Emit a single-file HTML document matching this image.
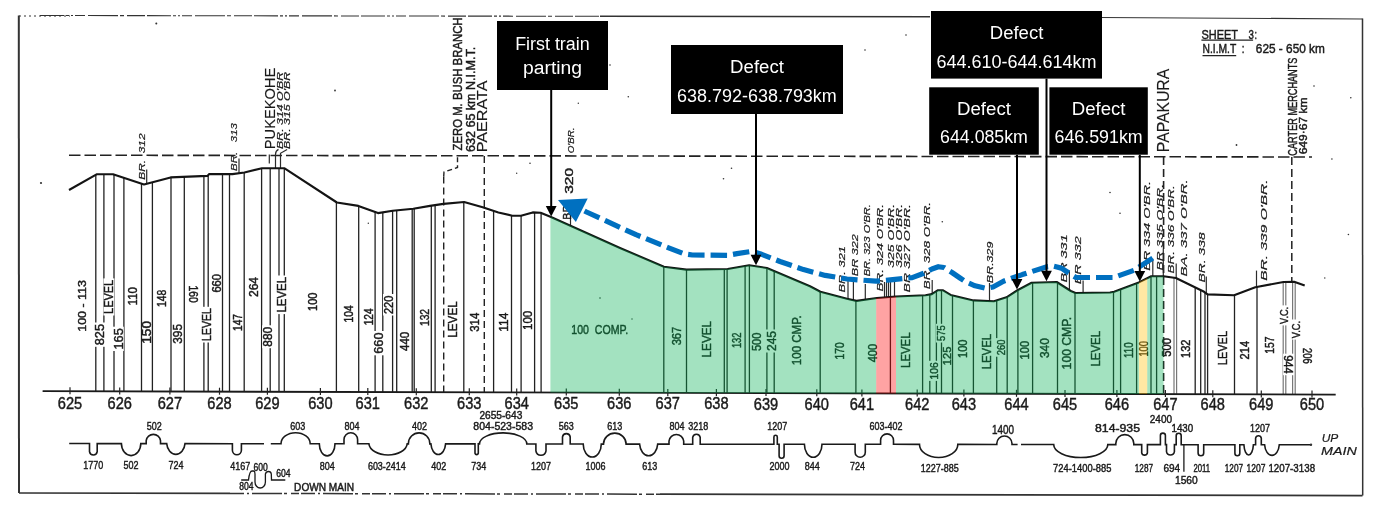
<!DOCTYPE html><html><head><meta charset="utf-8"><title>Gradient diagram</title>
<style>html,body{margin:0;padding:0;background:#fff;overflow:hidden}svg{display:block}text{font-family:"Liberation Sans", "DejaVu Sans", sans-serif}#art text{stroke:#1a1a1a;stroke-width:0.45px}#art text[font-style]{stroke-width:0.2px}</style></head><body>
<svg width="1379" height="510" viewBox="0 0 1379 510">
<rect width="1379" height="510" fill="#fff"/>
<g id="art">
<g fill="none" stroke="#333">
<path d="M19,16 L70,16" stroke-width="1" stroke-dasharray="2,3"/>
<path d="M40,15.5 L600,16.3" stroke-width="1.1" stroke-dasharray="24,2,3,2,2,2,10,3,30,2,4,3,18,2"/>
<path d="M600,16.3 L930,16.8" stroke-width="1.5"/>
<path d="M1100,17.5 L1362.5,19" stroke-width="1.2"/>
<path d="M18.8,15.5 L19,493" stroke-width="2"/>
<path d="M19,493 L230,493.4" stroke-width="1.7"/>
<path d="M230,493.4 L660,494.2" stroke-width="1.5" stroke-dasharray="14,3,2,3,30,2,3,4,8,2"/>
<path d="M660,494.2 L1362.5,495.6" stroke-width="1.8"/>
<path d="M1362.5,18.5 L1362.7,495.6" stroke-width="1.5"/>
</g>
<path d="M69,155.2 L1312,157" stroke="#222" stroke-width="1.6" stroke-dasharray="11.5,4" fill="none"/>
<line x1="95.8" y1="174.9" x2="95.8" y2="391.4" stroke="#222" stroke-width="1.3"/>
<line x1="103.9" y1="174.2" x2="103.9" y2="391.4" stroke="#222" stroke-width="1.3"/>
<line x1="114" y1="174.5" x2="114" y2="391.4" stroke="#222" stroke-width="1.3"/>
<line x1="123.9" y1="177.8" x2="123.9" y2="391.4" stroke="#222" stroke-width="1.3"/>
<line x1="141.5" y1="183.6" x2="141.5" y2="391.5" stroke="#222" stroke-width="1.3"/>
<line x1="152.4" y1="182.2" x2="152.4" y2="391.5" stroke="#222" stroke-width="1.3"/>
<line x1="171" y1="177.4" x2="171" y2="391.6" stroke="#222" stroke-width="1.3"/>
<line x1="184.3" y1="176.8" x2="184.3" y2="391.6" stroke="#222" stroke-width="1.3"/>
<line x1="203.9" y1="176" x2="203.9" y2="391.6" stroke="#222" stroke-width="1.3"/>
<line x1="208.2" y1="175.1" x2="208.2" y2="391.7" stroke="#222" stroke-width="1.3"/>
<line x1="222.5" y1="174.1" x2="222.5" y2="391.7" stroke="#222" stroke-width="1.3"/>
<line x1="229.5" y1="174.1" x2="229.5" y2="391.7" stroke="#222" stroke-width="1.3"/>
<line x1="244.2" y1="172.5" x2="244.2" y2="391.8" stroke="#222" stroke-width="1.3"/>
<line x1="261.6" y1="168.3" x2="261.6" y2="391.8" stroke="#222" stroke-width="1.3"/>
<line x1="270.2" y1="168.2" x2="270.2" y2="391.8" stroke="#222" stroke-width="1.3"/>
<line x1="279" y1="168.3" x2="279" y2="391.8" stroke="#222" stroke-width="1.3"/>
<line x1="284.3" y1="168.3" x2="284.3" y2="391.9" stroke="#222" stroke-width="1.3"/>
<line x1="336.4" y1="202.2" x2="336.4" y2="392" stroke="#222" stroke-width="1.3"/>
<line x1="358.7" y1="206" x2="358.7" y2="392.1" stroke="#222" stroke-width="1.3"/>
<line x1="375.1" y1="212" x2="375.1" y2="392.1" stroke="#222" stroke-width="1.3"/>
<line x1="382.8" y1="212.3" x2="382.8" y2="392.1" stroke="#222" stroke-width="1.3"/>
<line x1="392.6" y1="210.8" x2="392.6" y2="392.1" stroke="#222" stroke-width="1.3"/>
<line x1="396.7" y1="210.4" x2="396.7" y2="392.1" stroke="#222" stroke-width="1.3"/>
<line x1="412.2" y1="208.9" x2="412.2" y2="392.2" stroke="#222" stroke-width="1.3"/>
<line x1="414.2" y1="208.6" x2="414.2" y2="392.2" stroke="#222" stroke-width="1.3"/>
<line x1="431.3" y1="205.7" x2="431.3" y2="392.2" stroke="#222" stroke-width="1.3"/>
<line x1="435.1" y1="205.1" x2="435.1" y2="392.2" stroke="#222" stroke-width="1.3"/>
<line x1="463.8" y1="202" x2="463.8" y2="392.3" stroke="#222" stroke-width="1.3"/>
<line x1="493.6" y1="210.8" x2="493.6" y2="392.4" stroke="#222" stroke-width="1.3"/>
<line x1="511.5" y1="215.5" x2="511.5" y2="392.4" stroke="#222" stroke-width="1.3"/>
<line x1="521.1" y1="215.7" x2="521.1" y2="392.5" stroke="#222" stroke-width="1.3"/>
<line x1="534.6" y1="212.5" x2="534.6" y2="392.5" stroke="#222" stroke-width="1.3"/>
<line x1="541.1" y1="212.9" x2="541.1" y2="392.5" stroke="#222" stroke-width="1.3"/>
<line x1="663.8" y1="266.7" x2="663.8" y2="392.8" stroke="#222" stroke-width="1.3"/>
<line x1="686.5" y1="269.6" x2="686.5" y2="392.9" stroke="#222" stroke-width="1.3"/>
<line x1="724.3" y1="269" x2="724.3" y2="393" stroke="#222" stroke-width="1.3"/>
<line x1="727.1" y1="269" x2="727.1" y2="393" stroke="#222" stroke-width="1.3"/>
<line x1="745.1" y1="266" x2="745.1" y2="393.1" stroke="#222" stroke-width="1.3"/>
<line x1="749.4" y1="265.3" x2="749.4" y2="393.1" stroke="#222" stroke-width="1.3"/>
<line x1="766.9" y1="268" x2="766.9" y2="393.1" stroke="#222" stroke-width="1.3"/>
<line x1="774.2" y1="271.1" x2="774.2" y2="393.1" stroke="#222" stroke-width="1.3"/>
<line x1="820.2" y1="291.7" x2="820.2" y2="393.3" stroke="#222" stroke-width="1.3"/>
<line x1="855.9" y1="300.8" x2="855.9" y2="393.3" stroke="#222" stroke-width="1.3"/>
<line x1="890.4" y1="296.9" x2="890.4" y2="393.4" stroke="#222" stroke-width="1.3"/>
<line x1="922.6" y1="295.3" x2="922.6" y2="393.5" stroke="#222" stroke-width="1.3"/>
<line x1="929.8" y1="294.4" x2="929.8" y2="393.5" stroke="#222" stroke-width="1.3"/>
<line x1="936.4" y1="291.2" x2="936.4" y2="393.6" stroke="#222" stroke-width="1.3"/>
<line x1="941.5" y1="290.2" x2="941.5" y2="393.6" stroke="#222" stroke-width="1.3"/>
<line x1="952.5" y1="295.4" x2="952.5" y2="393.6" stroke="#222" stroke-width="1.3"/>
<line x1="973.4" y1="300.4" x2="973.4" y2="393.7" stroke="#222" stroke-width="1.3"/>
<line x1="996.7" y1="300.3" x2="996.7" y2="393.7" stroke="#222" stroke-width="1.3"/>
<line x1="1007.2" y1="296.8" x2="1007.2" y2="393.7" stroke="#222" stroke-width="1.3"/>
<line x1="1017.9" y1="290" x2="1017.9" y2="393.8" stroke="#222" stroke-width="1.3"/>
<line x1="1032.6" y1="282.7" x2="1032.6" y2="393.8" stroke="#222" stroke-width="1.3"/>
<line x1="1057.5" y1="282.5" x2="1057.5" y2="393.9" stroke="#222" stroke-width="1.3"/>
<line x1="1075" y1="292.8" x2="1075" y2="393.9" stroke="#222" stroke-width="1.3"/>
<line x1="1113.5" y1="291.9" x2="1113.5" y2="394" stroke="#222" stroke-width="1.3"/>
<line x1="1120.6" y1="289.3" x2="1120.6" y2="394" stroke="#222" stroke-width="1.3"/>
<line x1="1136.6" y1="283.2" x2="1136.6" y2="394.1" stroke="#222" stroke-width="1.3"/>
<line x1="1151" y1="276.3" x2="1151" y2="394.1" stroke="#222" stroke-width="1.3"/>
<line x1="1156.6" y1="276.2" x2="1156.6" y2="394.1" stroke="#222" stroke-width="1.3"/>
<line x1="1195.2" y1="287.4" x2="1195.2" y2="394.2" stroke="#222" stroke-width="1.3"/>
<line x1="1200.7" y1="290.1" x2="1200.7" y2="394.2" stroke="#222" stroke-width="1.3"/>
<line x1="1205" y1="292.5" x2="1205" y2="394.3" stroke="#222" stroke-width="1.3"/>
<line x1="1207.6" y1="294.4" x2="1207.6" y2="394.3" stroke="#222" stroke-width="1.3"/>
<line x1="1234.5" y1="295.1" x2="1234.5" y2="394.3" stroke="#222" stroke-width="1.3"/>
<line x1="1257" y1="287" x2="1257" y2="394.4" stroke="#222" stroke-width="1.3"/>
<line x1="1174" y1="277.7" x2="1174" y2="394.2" stroke="#777" stroke-width="1.2"/>
<line x1="1176.6" y1="278.3" x2="1176.6" y2="394.2" stroke="#777" stroke-width="1.2"/>
<line x1="1283.2" y1="282.1" x2="1283.2" y2="394.5" stroke="#777" stroke-width="1.2"/>
<line x1="1285.8" y1="281.9" x2="1285.8" y2="394.5" stroke="#777" stroke-width="1.2"/>
<line x1="1292.6" y1="281.7" x2="1292.6" y2="394.5" stroke="#777" stroke-width="1.2"/>
<line x1="1295.2" y1="282.1" x2="1295.2" y2="394.5" stroke="#777" stroke-width="1.2"/>
<line x1="443.7" y1="176.5" x2="443.7" y2="392.3" stroke="#222" stroke-width="1.4" stroke-dasharray="7,4"/>
<path d="M443.7,176.5 L444,172 L457.5,167.5 L457.5,156" fill="none" stroke="#222" stroke-width="1.4" stroke-dasharray="5,3"/>
<line x1="484.3" y1="156" x2="484.3" y2="392.4" stroke="#222" stroke-width="1.4" stroke-dasharray="7,4"/>
<line x1="1163.6" y1="157" x2="1163.6" y2="394.1" stroke="#222" stroke-width="1.6" stroke-dasharray="8,4"/>
<line x1="1291.8" y1="157" x2="1291.8" y2="281.5" stroke="#222" stroke-width="1.5" stroke-dasharray="8,4"/>
<line x1="146.7" y1="169.4" x2="146.7" y2="183.7" stroke="#2b2b2b" stroke-width="1.2"/>
<line x1="239" y1="158.4" x2="239" y2="173.2" stroke="#2b2b2b" stroke-width="1.2"/>
<line x1="848" y1="280" x2="848" y2="299" stroke="#2b2b2b" stroke-width="1.2"/>
<line x1="853.4" y1="282" x2="853.4" y2="300.2" stroke="#2b2b2b" stroke-width="1.2"/>
<line x1="865.3" y1="284" x2="865.3" y2="299.6" stroke="#2b2b2b" stroke-width="1.2"/>
<line x1="884.5" y1="282" x2="884.5" y2="297.4" stroke="#2b2b2b" stroke-width="1.2"/>
<line x1="886.5" y1="282" x2="886.5" y2="297.2" stroke="#2b2b2b" stroke-width="1.2"/>
<line x1="888.5" y1="282" x2="888.5" y2="297.1" stroke="#2b2b2b" stroke-width="1.2"/>
<line x1="890.5" y1="282" x2="890.5" y2="296.9" stroke="#2b2b2b" stroke-width="1.2"/>
<line x1="894.5" y1="282" x2="894.5" y2="296.6" stroke="#2b2b2b" stroke-width="1.2"/>
<line x1="932.2" y1="280" x2="932.2" y2="293.8" stroke="#2b2b2b" stroke-width="1.2"/>
<line x1="989.5" y1="283" x2="989.5" y2="301" stroke="#2b2b2b" stroke-width="1.2"/>
<line x1="1069.4" y1="270.6" x2="1069.4" y2="290.1" stroke="#2b2b2b" stroke-width="1.2"/>
<line x1="1083.1" y1="280.4" x2="1083.1" y2="292.9" stroke="#2b2b2b" stroke-width="1.2"/>
<line x1="1152.8" y1="258.8" x2="1152.8" y2="276.2" stroke="#2b2b2b" stroke-width="1.2"/>
<line x1="1163.3" y1="249" x2="1163.3" y2="276.2" stroke="#2b2b2b" stroke-width="1.2"/>
<line x1="1176.2" y1="263.6" x2="1176.2" y2="278.1" stroke="#2b2b2b" stroke-width="1.2"/>
<line x1="1206.3" y1="276.6" x2="1206.3" y2="293.4" stroke="#2b2b2b" stroke-width="1.2"/>
<line x1="1256.5" y1="270.6" x2="1256.5" y2="287.1" stroke="#2b2b2b" stroke-width="1.2"/>
<line x1="570.5" y1="205" x2="570.5" y2="225.7" stroke="#2b2b2b" stroke-width="1.2"/>
<path d="M278.5,149.4 Q275.5,151 275.5,154.5 L275.5,168.2 M287.1,149.4 L280.5,153.3 L280.5,168.2 M269.3,154.5 L269.3,163.5" fill="none" stroke="#2b2b2b" stroke-width="1.2"/>
<polyline fill="none" stroke="#141414" stroke-width="2.1" stroke-linejoin="round" points="69,190 97,174.2 113,174.2 144,184.4 170.6,177.4 207.4,175.9 209.2,174.1 232.4,174.1 244.4,172.5 262,168.2 284.6,168.3 336.9,202.5 358.4,205.9 378,213.1 392.7,210.8 413.3,208.8 430,205.9 443.5,203.9 464.1,202 482.7,207.3 498.4,212.4 512.2,215.7 521,215.7 532.7,212.4 540.6,212.7 550.4,216.7 620,248 663.9,266.7 686.5,269.6 727.6,269 749.2,265.3 766.9,268 810,286.3 820.4,291.8 847,298.8 856.5,300.9 876.9,298 895.7,296.5 925.5,295.2 931.8,294.1 938,290.2 942.7,290.2 950.6,294.9 973.5,300.4 993.9,301.2 1006.5,297.3 1017.5,290.2 1031.6,282.7 1056.7,282 1070.8,291 1075.5,293 1110,292.5 1114.1,291.8 1138.8,282.4 1151.2,276.2 1163.5,276.2 1175.9,278 1204.1,291.8 1207.6,294.4 1234.1,295.3 1255.3,287.3 1283.5,282 1294.1,281.7 1304.7,285.6"/>
<line x1="42.6" y1="391.2" x2="1335.7" y2="394.6" stroke="#1a1a1a" stroke-width="1.8"/>
<line x1="70" y1="387.3" x2="70" y2="394.3" stroke="#222" stroke-width="1.2"/>
<text x="57.8" y="408.5" font-size="17.2" fill="#1a1a1a" textLength="24.4" lengthAdjust="spacingAndGlyphs">625</text>
<line x1="119.7" y1="387.4" x2="119.7" y2="394.4" stroke="#222" stroke-width="1.2"/>
<text x="107.5" y="408.6" font-size="17.2" fill="#1a1a1a" textLength="24.4" lengthAdjust="spacingAndGlyphs">626</text>
<line x1="169.9" y1="387.6" x2="169.9" y2="394.6" stroke="#222" stroke-width="1.2"/>
<text x="157.7" y="408.6" font-size="17.2" fill="#1a1a1a" textLength="24.4" lengthAdjust="spacingAndGlyphs">627</text>
<line x1="219.5" y1="387.7" x2="219.5" y2="394.7" stroke="#222" stroke-width="1.2"/>
<text x="207.3" y="408.7" font-size="17.2" fill="#1a1a1a" textLength="24.4" lengthAdjust="spacingAndGlyphs">628</text>
<line x1="267.4" y1="387.8" x2="267.4" y2="394.8" stroke="#222" stroke-width="1.2"/>
<text x="255.2" y="408.8" font-size="17.2" fill="#1a1a1a" textLength="24.4" lengthAdjust="spacingAndGlyphs">629</text>
<line x1="320.4" y1="388" x2="320.4" y2="395" stroke="#222" stroke-width="1.2"/>
<text x="308.2" y="408.8" font-size="17.2" fill="#1a1a1a" textLength="24.4" lengthAdjust="spacingAndGlyphs">630</text>
<line x1="367.8" y1="388.1" x2="367.8" y2="395.1" stroke="#222" stroke-width="1.2"/>
<text x="355.6" y="408.9" font-size="17.2" fill="#1a1a1a" textLength="24.4" lengthAdjust="spacingAndGlyphs">631</text>
<line x1="416.3" y1="388.2" x2="416.3" y2="395.2" stroke="#222" stroke-width="1.2"/>
<text x="404.1" y="409" font-size="17.2" fill="#1a1a1a" textLength="24.4" lengthAdjust="spacingAndGlyphs">632</text>
<line x1="469.3" y1="388.3" x2="469.3" y2="395.3" stroke="#222" stroke-width="1.2"/>
<text x="457.1" y="409" font-size="17.2" fill="#1a1a1a" textLength="24.4" lengthAdjust="spacingAndGlyphs">633</text>
<line x1="516.7" y1="388.5" x2="516.7" y2="395.5" stroke="#222" stroke-width="1.2"/>
<text x="504.5" y="409.1" font-size="17.2" fill="#1a1a1a" textLength="24.4" lengthAdjust="spacingAndGlyphs">634</text>
<line x1="566.3" y1="388.6" x2="566.3" y2="395.6" stroke="#222" stroke-width="1.2"/>
<text x="554.1" y="409.2" font-size="17.2" fill="#1a1a1a" textLength="24.4" lengthAdjust="spacingAndGlyphs">635</text>
<line x1="619.3" y1="388.7" x2="619.3" y2="395.7" stroke="#222" stroke-width="1.2"/>
<text x="607.1" y="409.3" font-size="17.2" fill="#1a1a1a" textLength="24.4" lengthAdjust="spacingAndGlyphs">636</text>
<line x1="667.8" y1="388.9" x2="667.8" y2="395.9" stroke="#222" stroke-width="1.2"/>
<text x="655.6" y="409.3" font-size="17.2" fill="#1a1a1a" textLength="24.4" lengthAdjust="spacingAndGlyphs">637</text>
<line x1="716.4" y1="389" x2="716.4" y2="396" stroke="#222" stroke-width="1.2"/>
<text x="704.2" y="409.4" font-size="17.2" fill="#1a1a1a" textLength="24.4" lengthAdjust="spacingAndGlyphs">638</text>
<line x1="766" y1="389.1" x2="766" y2="396.1" stroke="#222" stroke-width="1.2"/>
<text x="753.8" y="409.5" font-size="17.2" fill="#1a1a1a" textLength="24.4" lengthAdjust="spacingAndGlyphs">639</text>
<line x1="816.8" y1="389.2" x2="816.8" y2="396.2" stroke="#222" stroke-width="1.2"/>
<text x="804.6" y="409.5" font-size="17.2" fill="#1a1a1a" textLength="24.4" lengthAdjust="spacingAndGlyphs">640</text>
<line x1="861.9" y1="389.4" x2="861.9" y2="396.4" stroke="#222" stroke-width="1.2"/>
<text x="849.7" y="409.6" font-size="17.2" fill="#1a1a1a" textLength="24.4" lengthAdjust="spacingAndGlyphs">641</text>
<line x1="917.2" y1="389.5" x2="917.2" y2="396.5" stroke="#222" stroke-width="1.2"/>
<text x="905" y="409.7" font-size="17.2" fill="#1a1a1a" textLength="24.4" lengthAdjust="spacingAndGlyphs">642</text>
<line x1="963.9" y1="389.6" x2="963.9" y2="396.6" stroke="#222" stroke-width="1.2"/>
<text x="951.7" y="409.7" font-size="17.2" fill="#1a1a1a" textLength="24.4" lengthAdjust="spacingAndGlyphs">643</text>
<line x1="1016.5" y1="389.8" x2="1016.5" y2="396.8" stroke="#222" stroke-width="1.2"/>
<text x="1004.3" y="409.8" font-size="17.2" fill="#1a1a1a" textLength="24.4" lengthAdjust="spacingAndGlyphs">644</text>
<line x1="1065" y1="389.9" x2="1065" y2="396.9" stroke="#222" stroke-width="1.2"/>
<text x="1052.8" y="409.9" font-size="17.2" fill="#1a1a1a" textLength="24.4" lengthAdjust="spacingAndGlyphs">645</text>
<line x1="1116.9" y1="390" x2="1116.9" y2="397" stroke="#222" stroke-width="1.2"/>
<text x="1104.7" y="409.9" font-size="17.2" fill="#1a1a1a" textLength="24.4" lengthAdjust="spacingAndGlyphs">646</text>
<line x1="1165.4" y1="390.1" x2="1165.4" y2="397.1" stroke="#222" stroke-width="1.2"/>
<text x="1153.2" y="410" font-size="17.2" fill="#1a1a1a" textLength="24.4" lengthAdjust="spacingAndGlyphs">647</text>
<line x1="1212.8" y1="390.3" x2="1212.8" y2="397.3" stroke="#222" stroke-width="1.2"/>
<text x="1200.6" y="410.1" font-size="17.2" fill="#1a1a1a" textLength="24.4" lengthAdjust="spacingAndGlyphs">648</text>
<line x1="1261.3" y1="390.4" x2="1261.3" y2="397.4" stroke="#222" stroke-width="1.2"/>
<text x="1249.1" y="410.1" font-size="17.2" fill="#1a1a1a" textLength="24.4" lengthAdjust="spacingAndGlyphs">649</text>
<line x1="1312" y1="390.5" x2="1312" y2="397.5" stroke="#222" stroke-width="1.2"/>
<text x="1299.8" y="410.2" font-size="17.2" fill="#1a1a1a" textLength="24.4" lengthAdjust="spacingAndGlyphs">650</text>
<text transform="translate(86.3,305.9) rotate(-90)" font-size="11.5" text-anchor="middle" fill="#1a1a1a" textLength="51.7" lengthAdjust="spacingAndGlyphs">100 - 113</text>
<rect x="94.3" y="322.5" width="11" height="24.3" fill="#fff"/>
<text transform="translate(104.1,334.6) rotate(-90)" font-size="12" text-anchor="middle" fill="#1a1a1a" textLength="21.3" lengthAdjust="spacingAndGlyphs">825</text>
<rect x="103.4" y="278.4" width="11" height="37.1" fill="#fff"/>
<text transform="translate(113.2,296.9) rotate(-90)" font-size="12" text-anchor="middle" fill="#1a1a1a" textLength="34.1" lengthAdjust="spacingAndGlyphs">LEVEL</text>
<rect x="112.8" y="326.7" width="11" height="24.3" fill="#fff"/>
<text transform="translate(122.6,338.9) rotate(-90)" font-size="12" text-anchor="middle" fill="#1a1a1a" textLength="21.3" lengthAdjust="spacingAndGlyphs">165</text>
<text transform="translate(136.8,296.2) rotate(-90)" font-size="12" text-anchor="middle" fill="#1a1a1a" textLength="18.4" lengthAdjust="spacingAndGlyphs">110</text>
<text transform="translate(151,332.4) rotate(-90)" font-size="12" text-anchor="middle" fill="#1a1a1a" textLength="22.8" lengthAdjust="spacingAndGlyphs">150</text>
<text transform="translate(166.1,298.4) rotate(-90)" font-size="12" text-anchor="middle" fill="#1a1a1a" textLength="17.1" lengthAdjust="spacingAndGlyphs">148</text>
<text transform="translate(182.3,333.9) rotate(-90)" font-size="12" text-anchor="middle" fill="#1a1a1a" textLength="19.8" lengthAdjust="spacingAndGlyphs">395</text>
<rect x="200.9" y="306.8" width="11" height="35.7" fill="#fff"/>
<text transform="translate(210.7,324.6) rotate(-90)" font-size="12" text-anchor="middle" fill="#1a1a1a" textLength="32.7" lengthAdjust="spacingAndGlyphs">LEVEL</text>
<text transform="translate(220.7,283.3) rotate(-90)" font-size="12" text-anchor="middle" fill="#1a1a1a" textLength="18.6" lengthAdjust="spacingAndGlyphs">660</text>
<text transform="translate(242.1,322.5) rotate(-90)" font-size="12" text-anchor="middle" fill="#1a1a1a" textLength="17" lengthAdjust="spacingAndGlyphs">147</text>
<text transform="translate(257.7,287) rotate(-90)" font-size="12" text-anchor="middle" fill="#1a1a1a" textLength="20" lengthAdjust="spacingAndGlyphs">264</text>
<rect x="262.1" y="325.3" width="11" height="22.9" fill="#fff"/>
<text transform="translate(271.9,336.8) rotate(-90)" font-size="12" text-anchor="middle" fill="#1a1a1a" textLength="19.9" lengthAdjust="spacingAndGlyphs">880</text>
<rect x="276.4" y="275.5" width="11" height="38.6" fill="#fff"/>
<text transform="translate(286.2,294.8) rotate(-90)" font-size="12" text-anchor="middle" fill="#1a1a1a" textLength="35.6" lengthAdjust="spacingAndGlyphs">LEVEL</text>
<text transform="translate(317.4,301.8) rotate(-90)" font-size="12" text-anchor="middle" fill="#1a1a1a" textLength="18.4" lengthAdjust="spacingAndGlyphs">100</text>
<text transform="translate(353,313.9) rotate(-90)" font-size="12" text-anchor="middle" fill="#1a1a1a" textLength="17.1" lengthAdjust="spacingAndGlyphs">104</text>
<text transform="translate(372.9,316.8) rotate(-90)" font-size="12" text-anchor="middle" fill="#1a1a1a" textLength="17" lengthAdjust="spacingAndGlyphs">124</text>
<rect x="373" y="331" width="11" height="24.3" fill="#fff"/>
<text transform="translate(382.8,343.1) rotate(-90)" font-size="12" text-anchor="middle" fill="#1a1a1a" textLength="21.3" lengthAdjust="spacingAndGlyphs">660</text>
<rect x="383" y="294" width="11" height="21.5" fill="#fff"/>
<text transform="translate(392.8,304.8) rotate(-90)" font-size="12" text-anchor="middle" fill="#1a1a1a" textLength="18.5" lengthAdjust="spacingAndGlyphs">220</text>
<text transform="translate(408.9,341.4) rotate(-90)" font-size="12" text-anchor="middle" fill="#1a1a1a" textLength="19.1" lengthAdjust="spacingAndGlyphs">440</text>
<text transform="translate(429.1,317.5) rotate(-90)" font-size="12" text-anchor="middle" fill="#1a1a1a" textLength="17.2" lengthAdjust="spacingAndGlyphs">132</text>
<text transform="translate(456.6,319.5) rotate(-90)" font-size="12" text-anchor="middle" fill="#1a1a1a" textLength="36.3" lengthAdjust="spacingAndGlyphs">LEVEL</text>
<text transform="translate(478.8,322.2) rotate(-90)" font-size="12" text-anchor="middle" fill="#1a1a1a" textLength="19.1" lengthAdjust="spacingAndGlyphs">314</text>
<text transform="translate(508.2,322.2) rotate(-90)" font-size="12" text-anchor="middle" fill="#1a1a1a" textLength="19.1" lengthAdjust="spacingAndGlyphs">114</text>
<text transform="translate(532.3,320.4) rotate(-90)" font-size="12" text-anchor="middle" fill="#1a1a1a" textLength="19.1" lengthAdjust="spacingAndGlyphs">100</text>
<text transform="translate(680.8,336.1) rotate(-90)" font-size="12" text-anchor="middle" fill="#1a1a1a" textLength="18.5" lengthAdjust="spacingAndGlyphs">367</text>
<text transform="translate(710.9,339.2) rotate(-90)" font-size="12.5" text-anchor="middle" fill="#1a1a1a" textLength="36.5" lengthAdjust="spacingAndGlyphs">LEVEL</text>
<text transform="translate(740.8,340.3) rotate(-90)" font-size="12" text-anchor="middle" fill="#1a1a1a" textLength="15.6" lengthAdjust="spacingAndGlyphs">132</text>
<text transform="translate(761.3,341.8) rotate(-90)" font-size="12" text-anchor="middle" fill="#1a1a1a" textLength="18.5" lengthAdjust="spacingAndGlyphs">500</text>
<rect x="765.7" y="329.5" width="11" height="23" fill="#fff"/>
<text transform="translate(775.5,341) rotate(-90)" font-size="12" text-anchor="middle" fill="#1a1a1a" textLength="20" lengthAdjust="spacingAndGlyphs">245</text>
<text transform="translate(801.3,340.3) rotate(-90)" font-size="12.5" text-anchor="middle" fill="#1a1a1a" textLength="49.8" lengthAdjust="spacingAndGlyphs">100 CMP.</text>
<text transform="translate(843.7,350.9) rotate(-90)" font-size="12" text-anchor="middle" fill="#1a1a1a" textLength="17.1" lengthAdjust="spacingAndGlyphs">170</text>
<text transform="translate(877.3,353.1) rotate(-90)" font-size="12" text-anchor="middle" fill="#1a1a1a" textLength="18.5" lengthAdjust="spacingAndGlyphs">400</text>
<text transform="translate(910.1,350.2) rotate(-90)" font-size="12.5" text-anchor="middle" fill="#1a1a1a" textLength="35.5" lengthAdjust="spacingAndGlyphs">LEVEL</text>
<rect x="928.8" y="360.8" width="10.3" height="20.1" fill="#fff"/>
<text transform="translate(938,370.9) rotate(-90)" font-size="11" text-anchor="middle" fill="#1a1a1a" textLength="17.1" lengthAdjust="spacingAndGlyphs">106</text>
<rect x="935.9" y="323.8" width="10.3" height="18.7" fill="#fff"/>
<text transform="translate(945.1,333.1) rotate(-90)" font-size="11" text-anchor="middle" fill="#1a1a1a" textLength="15.7" lengthAdjust="spacingAndGlyphs">575</text>
<text transform="translate(950.8,355.9) rotate(-90)" font-size="11" text-anchor="middle" fill="#1a1a1a" textLength="18.5" lengthAdjust="spacingAndGlyphs">125</text>
<text transform="translate(966.8,348.8) rotate(-90)" font-size="12" text-anchor="middle" fill="#1a1a1a" textLength="18.4" lengthAdjust="spacingAndGlyphs">100</text>
<text transform="translate(991.1,351.6) rotate(-90)" font-size="12.5" text-anchor="middle" fill="#1a1a1a" textLength="35.5" lengthAdjust="spacingAndGlyphs">LEVEL</text>
<rect x="995.6" y="338.1" width="10.3" height="18.6" fill="#fff"/>
<text transform="translate(1004.8,347.4) rotate(-90)" font-size="11" text-anchor="middle" fill="#1a1a1a" textLength="15.6" lengthAdjust="spacingAndGlyphs">260</text>
<text transform="translate(1029.3,350.2) rotate(-90)" font-size="12" text-anchor="middle" fill="#1a1a1a" textLength="18.5" lengthAdjust="spacingAndGlyphs">100</text>
<text transform="translate(1048.6,348.1) rotate(-90)" font-size="12" text-anchor="middle" fill="#1a1a1a" textLength="19.9" lengthAdjust="spacingAndGlyphs">340</text>
<text transform="translate(1071,343.1) rotate(-90)" font-size="12.5" text-anchor="middle" fill="#1a1a1a" textLength="52.6" lengthAdjust="spacingAndGlyphs">100 CMP.</text>
<text transform="translate(1100,348.8) rotate(-90)" font-size="12.5" text-anchor="middle" fill="#1a1a1a" textLength="35.6" lengthAdjust="spacingAndGlyphs">LEVEL</text>
<text transform="translate(1132.5,350.2) rotate(-90)" font-size="12" text-anchor="middle" fill="#1a1a1a" textLength="15.6" lengthAdjust="spacingAndGlyphs">110</text>
<text transform="translate(1148.1,348.8) rotate(-90)" font-size="12" text-anchor="middle" fill="#1a1a1a" textLength="15.6" lengthAdjust="spacingAndGlyphs">100</text>
<text transform="translate(1170.9,347.4) rotate(-90)" font-size="12" text-anchor="middle" fill="#1a1a1a" textLength="18.5" lengthAdjust="spacingAndGlyphs">500</text>
<text transform="translate(1190.2,348.8) rotate(-90)" font-size="12" text-anchor="middle" fill="#1a1a1a" textLength="18.4" lengthAdjust="spacingAndGlyphs">132</text>
<text transform="translate(1227.1,348.1) rotate(-90)" font-size="12.5" text-anchor="middle" fill="#1a1a1a" textLength="34.2" lengthAdjust="spacingAndGlyphs">LEVEL</text>
<text transform="translate(1248.8,350.2) rotate(-90)" font-size="12" text-anchor="middle" fill="#1a1a1a" textLength="18.5" lengthAdjust="spacingAndGlyphs">214</text>
<text transform="translate(1274.4,345.2) rotate(-90)" font-size="12" text-anchor="middle" fill="#1a1a1a" textLength="17.1" lengthAdjust="spacingAndGlyphs">157</text>
<rect x="1279.1" y="305.4" width="10.3" height="20" fill="#fff"/>
<text transform="translate(1288.3,315.4) rotate(-90)" font-size="11" text-anchor="middle" fill="#1a1a1a" textLength="17" lengthAdjust="spacingAndGlyphs">V.C.</text>
<rect x="1290.5" y="319.5" width="10.3" height="20.1" fill="#fff"/>
<text transform="translate(1299.7,329.6) rotate(-90)" font-size="11" text-anchor="middle" fill="#1a1a1a" textLength="17.1" lengthAdjust="spacingAndGlyphs">V.C.</text>
<text transform="translate(189.3,294.1) rotate(90)" font-size="12" text-anchor="middle" fill="#1a1a1a" textLength="17.1" lengthAdjust="spacingAndGlyphs">160</text>
<rect x="1283.1" y="353.7" width="11" height="21.5" fill="#fff"/>
<text transform="translate(1284.3,364.4) rotate(90)" font-size="12" text-anchor="middle" fill="#1a1a1a" textLength="18.5" lengthAdjust="spacingAndGlyphs">944</text>
<text transform="translate(1302.7,355.9) rotate(90)" font-size="12" text-anchor="middle" fill="#1a1a1a" textLength="15.6" lengthAdjust="spacingAndGlyphs">206</text>
<text x="571.3" y="333.9" font-size="13" fill="#1a1a1a" textLength="56.9" lengthAdjust="spacingAndGlyphs">100&#160;&#160;COMP.</text>
<text transform="translate(144.7,156.6) rotate(-90)" font-size="9.5" text-anchor="middle" fill="#1a1a1a" font-style="italic" textLength="46.3" lengthAdjust="spacingAndGlyphs">BR.&#160;&#160;312</text>
<text transform="translate(237,147) rotate(-90)" font-size="9.5" text-anchor="middle" fill="#1a1a1a" font-style="italic" textLength="47.8" lengthAdjust="spacingAndGlyphs">BR.&#160;&#160;&#160;313</text>
<text transform="translate(274.6,108.5) rotate(-90)" font-size="15" text-anchor="middle" fill="#1a1a1a" textLength="81.4" lengthAdjust="spacingAndGlyphs" style="stroke-width:0.15px">PUKEKOHE</text>
<text transform="translate(282.6,110.4) rotate(-90)" font-size="8.8" text-anchor="middle" fill="#1a1a1a" font-style="italic" textLength="77.2" lengthAdjust="spacingAndGlyphs">BR. 314 O'BR</text>
<text transform="translate(290.1,110.4) rotate(-90)" font-size="8.8" text-anchor="middle" fill="#1a1a1a" font-style="italic" textLength="77.2" lengthAdjust="spacingAndGlyphs">BR. 315 O'BR</text>
<text transform="translate(461.9,84) rotate(-90)" font-size="12.5" text-anchor="middle" fill="#1a1a1a" textLength="133.1" lengthAdjust="spacingAndGlyphs">ZERO M. BUSH BRANCH</text>
<text transform="translate(475.3,99.4) rotate(-90)" font-size="12" text-anchor="middle" fill="#1a1a1a" textLength="105.2" lengthAdjust="spacingAndGlyphs">632 65 km N.I.M.T.</text>
<text transform="translate(487.4,116.4) rotate(-90)" font-size="15" text-anchor="middle" fill="#1a1a1a" textLength="71.6" lengthAdjust="spacingAndGlyphs" style="stroke-width:0.15px">PAERATA</text>
<text transform="translate(573.6,140.4) rotate(-90)" font-size="9.5" text-anchor="middle" fill="#1a1a1a" font-style="italic" textLength="25.9" lengthAdjust="spacingAndGlyphs">O'BR.</text>
<text transform="translate(572.5,180.9) rotate(-90)" font-size="11" text-anchor="middle" fill="#1a1a1a" textLength="25.9" lengthAdjust="spacingAndGlyphs">320</text>
<text transform="translate(571.4,212.3) rotate(-90)" font-size="10" text-anchor="middle" fill="#1a1a1a" textLength="14.7" lengthAdjust="spacingAndGlyphs">BR</text>
<text transform="translate(845,269.3) rotate(-90)" font-size="9.5" text-anchor="middle" fill="#1a1a1a" font-style="italic" textLength="46.4" lengthAdjust="spacingAndGlyphs">BR. 321</text>
<text transform="translate(857.5,255.2) rotate(-90)" font-size="9.5" text-anchor="middle" fill="#1a1a1a" font-style="italic" textLength="42.1" lengthAdjust="spacingAndGlyphs">BR 322</text>
<text transform="translate(869.8,240.2) rotate(-90)" font-size="9.5" text-anchor="middle" fill="#1a1a1a" font-style="italic" textLength="72.3" lengthAdjust="spacingAndGlyphs">BR. 323 O'BR.</text>
<text transform="translate(882.7,247.7) rotate(-90)" font-size="9.5" text-anchor="middle" fill="#1a1a1a" font-style="italic" textLength="87.4" lengthAdjust="spacingAndGlyphs">BR. 324 O'BR.</text>
<text transform="translate(893.5,235.8) rotate(-90)" font-size="9.5" text-anchor="middle" fill="#1a1a1a" font-style="italic" textLength="63.7" lengthAdjust="spacingAndGlyphs">325 O'BR.</text>
<text transform="translate(902.1,235.8) rotate(-90)" font-size="9.5" text-anchor="middle" fill="#1a1a1a" font-style="italic" textLength="63.7" lengthAdjust="spacingAndGlyphs">326 O'BR.</text>
<text transform="translate(909.7,248.2) rotate(-90)" font-size="9.5" text-anchor="middle" fill="#1a1a1a" font-style="italic" textLength="88.5" lengthAdjust="spacingAndGlyphs">BR 327 O'BR.</text>
<text transform="translate(930.2,245.6) rotate(-90)" font-size="9.5" text-anchor="middle" fill="#1a1a1a" font-style="italic" textLength="87.3" lengthAdjust="spacingAndGlyphs">BR. 328 O'BR.</text>
<text transform="translate(992.6,262.4) rotate(-90)" font-size="9.5" text-anchor="middle" fill="#1a1a1a" font-style="italic" textLength="41.5" lengthAdjust="spacingAndGlyphs">BR.329</text>
<text transform="translate(1067,258.4) rotate(-90)" font-size="9.5" text-anchor="middle" fill="#1a1a1a" font-style="italic" textLength="48.1" lengthAdjust="spacingAndGlyphs">BR 331</text>
<text transform="translate(1080.7,260.3) rotate(-90)" font-size="9.5" text-anchor="middle" fill="#1a1a1a" font-style="italic" textLength="48" lengthAdjust="spacingAndGlyphs">BR 332</text>
<text transform="translate(1149.9,225.8) rotate(-90)" font-size="9.5" text-anchor="middle" fill="#1a1a1a" font-style="italic" textLength="89.7" lengthAdjust="spacingAndGlyphs">BR 334 O'BR.</text>
<text transform="translate(1162.5,227.2) rotate(-90)" font-size="9.5" text-anchor="middle" fill="#1a1a1a" font-style="italic" textLength="86.8" lengthAdjust="spacingAndGlyphs">BR 335 O'BR.</text>
<text transform="translate(1174.3,229.4) rotate(-90)" font-size="9.5" text-anchor="middle" fill="#1a1a1a" font-style="italic" textLength="88.2" lengthAdjust="spacingAndGlyphs">BR. 336 O'BR.</text>
<text transform="translate(1186.9,227.9) rotate(-90)" font-size="9.5" text-anchor="middle" fill="#1a1a1a" font-style="italic" textLength="97.1" lengthAdjust="spacingAndGlyphs">BA. 337 O'BR.</text>
<text transform="translate(1204.6,257.4) rotate(-90)" font-size="9.5" text-anchor="middle" fill="#1a1a1a" font-style="italic" textLength="50" lengthAdjust="spacingAndGlyphs">BR. 338</text>
<text transform="translate(1266.6,230.1) rotate(-90)" font-size="9.5" text-anchor="middle" fill="#1a1a1a" font-style="italic" textLength="101.5" lengthAdjust="spacingAndGlyphs">BR. 339 O'BR.</text>
<text transform="translate(1169.4,110.5) rotate(-90)" font-size="16" text-anchor="middle" fill="#1a1a1a" textLength="83.4" lengthAdjust="spacingAndGlyphs" style="stroke-width:0.15px">PAPAKURA</text>
<text transform="translate(1296.5,106.6) rotate(-90)" font-size="12.5" text-anchor="middle" fill="#1a1a1a" textLength="98.1" lengthAdjust="spacingAndGlyphs">CARTER MERCHANTS</text>
<text transform="translate(1306.7,125.9) rotate(-90)" font-size="11.5" text-anchor="middle" fill="#1a1a1a" textLength="56.9" lengthAdjust="spacingAndGlyphs">649&#183;67 km</text>
<text x="1201.5" y="38.5" font-size="13" fill="#1a1a1a" textLength="36.5" lengthAdjust="spacingAndGlyphs">SHEET</text>
<text x="1248.6" y="38.5" font-size="13" fill="#1a1a1a" textLength="5.4" lengthAdjust="spacingAndGlyphs">3</text>
<text x="1254.5" y="38.5" font-size="12" fill="#1a1a1a" textLength="2.5" lengthAdjust="spacingAndGlyphs">:</text>
<line x1="1201.4" y1="40.2" x2="1253.1" y2="40.2" stroke="#222" stroke-width="1.2"/>
<text x="1202.5" y="53.2" font-size="12.5" fill="#1a1a1a" textLength="33.7" lengthAdjust="spacingAndGlyphs">N.I.M.T</text>
<text x="1241.8" y="53.2" font-size="12" fill="#1a1a1a" textLength="2.7" lengthAdjust="spacingAndGlyphs">:</text>
<text x="1255.8" y="53.2" font-size="13" fill="#1a1a1a" textLength="69.1" lengthAdjust="spacingAndGlyphs">625 - 650 km</text>
<line x1="1202.5" y1="55.6" x2="1236.2" y2="55.6" stroke="#222" stroke-width="1.3"/>
<path d="M69.2,443.5 L89.5,443.5 L89.5,451.7 A3.9,3.9 0 0 0 97.2,451.7 L97.2,443.5 L121.4,443.6 A9.7,12 0 0 0 140.8,443.6 L146.2,443.6 L146.2,440.7 A7.2,7.2 0 0 1 160.5,440.7 L160.5,443.6 L166.7,443.6 A9.2,12 0 0 0 185,443.6 L232.4,443.7 L232.4,450.2 A4.5,4.5 0 0 0 241.4,450.2 L241.4,443.7 L281,443.7 A14.6,11 0 0 1 310.2,443.7 L319.3,443.8 A7.8,12 0 0 0 335,443.8 L344,443.8 L344,439.6 A6.8,6.8 0 0 1 357.6,439.6 L357.6,443.8 L368.9,443.8 A19.2,12 0 0 0 407.2,443.8 L408.4,443.9 L408.4,443.6 A10.7,10.7 0 0 1 429.8,443.6 L429.8,443.9 L430.9,443.9 A7.4,12 0 0 0 445.6,443.9 L475,443.9 L475,453.3 A1.7,1.7 0 0 0 478.3,453.3 L478.3,443.9 L479.5,443.9 A23.6,11 0 0 1 526.8,443.9 L535.9,444 L535.9,450.9 A5.1,5.1 0 0 0 546,450.9 L546,444 L562.5,444 L562.5,436.9 A3.9,3.9 0 0 1 570.2,436.9 L570.2,444 L583.2,444 A9,13 0 0 0 601.3,444 L603.5,444.1 A11.3,11 0 0 1 626.1,444.1 L639.6,444.1 A9.1,13 0 0 0 657.7,444.1 L669,444.1 L669,441 A7.4,7.4 0 0 1 683.7,441 L683.7,444.1 L692.7,444.2 L692.7,437.4 A3.8,3.8 0 0 1 700.2,437.4 L700.2,444.2 L773.9,444.2 L773.9,436.9 A1.7,1.7 0 0 1 777.3,436.9 L777.3,444.2 L779.1,444.2 L779.1,455.7 A2.5,2.5 0 0 0 784.1,455.7 L784.1,444.2 L804.4,444.3 A8.8,13 0 0 0 822,444.3 L855.1,444.3 L855.1,452.2 A5.1,5.1 0 0 0 865.3,452.2 L865.3,444.3 L880.6,444.3 L880.6,440.3 A6.4,6.4 0 0 1 893.5,440.3 L893.5,444.3 L919.5,444.4 A19.1,13 0 0 0 957.8,444.4 L996.8,444.5 L996.8,443.6 A7.6,7.6 0 0 1 1012,443.6 L1012,444.5 L1053.7,444.5 A27,13 0 0 0 1107.8,444.5 L1115.8,444.6 L1115.8,443.6 A9,9 0 0 1 1133.8,443.6 L1133.8,444.6 L1141.7,444.6 L1141.7,452.8 A2.9,2.9 0 0 0 1147.4,452.8 L1147.4,444.6 L1160.4,444.6 L1160.4,435.6 A2.5,2.5 0 0 1 1165.4,435.6 L1165.4,444.6 L1166.5,444.6 L1166.5,451.7 A4,4 0 0 0 1174.4,451.7 L1174.4,444.6 L1176.2,444.7 L1176.2,435.7 A2.5,2.5 0 0 1 1181.2,435.7 L1181.2,444.7 L1198.1,444.7 L1198.1,452.9 A2.8,2.8 0 0 0 1203.7,452.9 L1203.7,444.7 L1234.9,444.7 L1234.9,453.3 A2.4,2.4 0 0 0 1239.8,453.3 L1239.8,444.7 L1243.9,444.7 A4.8,12 0 0 0 1253.4,444.7 L1255.6,444.7 L1255.6,438.1 A2.9,2.9 0 0 1 1261.3,438.1 L1261.3,444.7 L1264.6,444.8 A7.4,12 0 0 0 1279.3,444.8 L1310.9,444.8" fill="none" stroke="#1a1a1a" stroke-width="1.6"/>
<line x1="264" y1="443.7" x2="270.8" y2="443.7" stroke="#fff" stroke-width="4"/>
<line x1="1017.6" y1="444.5" x2="1021" y2="444.5" stroke="#fff" stroke-width="4"/>
<line x1="1183.9" y1="444" x2="1183.9" y2="471.8" stroke="#1a1a1a" stroke-width="1.3"/>
<path d="M241.2,480 L248.5,480 Q249.5,471 252,471 L253.5,471 Q255,471 255,474 L255,482 A5.2,6 0 0 0 265.4,482 L265.4,474 Q266,471.5 268.5,471.5 Q271,471.5 271.3,474 L271.5,480 L285.3,480" fill="none" stroke="#1a1a1a" stroke-width="1.3"/>
<text x="83.3" y="468.5" font-size="11.5" fill="#1a1a1a" textLength="20" lengthAdjust="spacingAndGlyphs">1770</text>
<text x="123.5" y="468.5" font-size="11.5" fill="#1a1a1a" textLength="15" lengthAdjust="spacingAndGlyphs">502</text>
<text x="146.7" y="430.1" font-size="11.5" fill="#1a1a1a" textLength="15" lengthAdjust="spacingAndGlyphs">502</text>
<text x="168.5" y="468.5" font-size="11.5" fill="#1a1a1a" textLength="15" lengthAdjust="spacingAndGlyphs">724</text>
<text x="230.3" y="469.6" font-size="11.5" fill="#1a1a1a" textLength="20" lengthAdjust="spacingAndGlyphs">4167</text>
<text x="253.4" y="470.8" font-size="11" fill="#1a1a1a" textLength="14.3" lengthAdjust="spacingAndGlyphs">600</text>
<text x="276.3" y="477.4" font-size="11" fill="#1a1a1a" textLength="14.3" lengthAdjust="spacingAndGlyphs">604</text>
<text x="239.3" y="489.8" font-size="11" fill="#1a1a1a" textLength="14.3" lengthAdjust="spacingAndGlyphs">804</text>
<text x="290.3" y="430.1" font-size="11.5" fill="#1a1a1a" textLength="15" lengthAdjust="spacingAndGlyphs">603</text>
<text x="319.7" y="469.6" font-size="11.5" fill="#1a1a1a" textLength="15" lengthAdjust="spacingAndGlyphs">804</text>
<text x="344.5" y="430" font-size="11.5" fill="#1a1a1a" textLength="15" lengthAdjust="spacingAndGlyphs">804</text>
<text x="367.9" y="469.6" font-size="11.5" fill="#1a1a1a" textLength="37.9" lengthAdjust="spacingAndGlyphs">603-2414</text>
<text x="412.1" y="430" font-size="11.5" fill="#1a1a1a" textLength="15" lengthAdjust="spacingAndGlyphs">402</text>
<text x="431.3" y="469.6" font-size="11.5" fill="#1a1a1a" textLength="15" lengthAdjust="spacingAndGlyphs">402</text>
<text x="479.4" y="418.8" font-size="11.5" fill="#1a1a1a" textLength="42.9" lengthAdjust="spacingAndGlyphs">2655-643</text>
<text x="473.3" y="430.1" font-size="11.5" fill="#1a1a1a" textLength="59.8" lengthAdjust="spacingAndGlyphs">804-523-583</text>
<text x="471.3" y="470.3" font-size="11.5" fill="#1a1a1a" textLength="15" lengthAdjust="spacingAndGlyphs">734</text>
<text x="531.1" y="470.3" font-size="11.5" fill="#1a1a1a" textLength="20" lengthAdjust="spacingAndGlyphs">1207</text>
<text x="558.8" y="430.1" font-size="11.5" fill="#1a1a1a" textLength="15" lengthAdjust="spacingAndGlyphs">563</text>
<text x="585.6" y="470.3" font-size="11.5" fill="#1a1a1a" textLength="20" lengthAdjust="spacingAndGlyphs">1006</text>
<text x="607.3" y="430.1" font-size="11.5" fill="#1a1a1a" textLength="15" lengthAdjust="spacingAndGlyphs">613</text>
<text x="642.3" y="470.3" font-size="11.5" fill="#1a1a1a" textLength="15" lengthAdjust="spacingAndGlyphs">613</text>
<text x="669.4" y="430.1" font-size="11.5" fill="#1a1a1a" textLength="15" lengthAdjust="spacingAndGlyphs">804</text>
<text x="688.3" y="430.1" font-size="11.5" fill="#1a1a1a" textLength="20" lengthAdjust="spacingAndGlyphs">3218</text>
<text x="767.3" y="430.1" font-size="11.5" fill="#1a1a1a" textLength="20" lengthAdjust="spacingAndGlyphs">1207</text>
<text x="769.6" y="470.3" font-size="11.5" fill="#1a1a1a" textLength="20" lengthAdjust="spacingAndGlyphs">2000</text>
<text x="804.8" y="470.3" font-size="11.5" fill="#1a1a1a" textLength="15" lengthAdjust="spacingAndGlyphs">844</text>
<text x="849.9" y="470.3" font-size="11.5" fill="#1a1a1a" textLength="15" lengthAdjust="spacingAndGlyphs">724</text>
<text x="869.5" y="430.1" font-size="11.5" fill="#1a1a1a" textLength="32.9" lengthAdjust="spacingAndGlyphs">603-402</text>
<text x="920.8" y="471.8" font-size="11.5" fill="#1a1a1a" textLength="37.9" lengthAdjust="spacingAndGlyphs">1227-885</text>
<text x="992" y="433.5" font-size="12.5" fill="#1a1a1a" textLength="22" lengthAdjust="spacingAndGlyphs">1400</text>
<text x="1053.1" y="471.8" font-size="11.5" fill="#1a1a1a" textLength="58.3" lengthAdjust="spacingAndGlyphs">724-1400-885</text>
<text x="1095" y="432.4" font-size="11.5" fill="#1a1a1a" textLength="45" lengthAdjust="spacingAndGlyphs">814-935</text>
<text x="1149.8" y="423.3" font-size="11.5" fill="#1a1a1a" textLength="22.3" lengthAdjust="spacingAndGlyphs">2400</text>
<text x="1171.5" y="432.4" font-size="11.5" fill="#1a1a1a" textLength="21.7" lengthAdjust="spacingAndGlyphs">1430</text>
<text x="1250" y="432.4" font-size="11.5" fill="#1a1a1a" textLength="20" lengthAdjust="spacingAndGlyphs">1207</text>
<text x="1134.8" y="471.8" font-size="11.5" fill="#1a1a1a" textLength="18.3" lengthAdjust="spacingAndGlyphs">1287</text>
<text x="1163.4" y="471.8" font-size="11.5" fill="#1a1a1a" textLength="16.7" lengthAdjust="spacingAndGlyphs">694</text>
<text x="1193.4" y="471.8" font-size="11.5" fill="#1a1a1a" textLength="16.7" lengthAdjust="spacingAndGlyphs">2011</text>
<text x="1224.8" y="471.8" font-size="11.5" fill="#1a1a1a" textLength="18.3" lengthAdjust="spacingAndGlyphs">1207</text>
<text x="1246.5" y="471.8" font-size="11.5" fill="#1a1a1a" textLength="19" lengthAdjust="spacingAndGlyphs">1207</text>
<text x="1268.4" y="471.8" font-size="11.5" fill="#1a1a1a" textLength="46.7" lengthAdjust="spacingAndGlyphs">1207-3138</text>
<text x="1175" y="483.8" font-size="11.5" fill="#1a1a1a" textLength="22.7" lengthAdjust="spacingAndGlyphs">1560</text>
<text x="294.1" y="491.2" font-size="10.5" fill="#1a1a1a" textLength="60" lengthAdjust="spacingAndGlyphs">DOWN MAIN</text>
<text x="1321.7" y="441.7" font-size="11.5" fill="#1a1a1a" font-style="italic" textLength="16.6" lengthAdjust="spacingAndGlyphs">UP</text>
<text x="1321" y="455" font-size="11.5" fill="#1a1a1a" font-style="italic" textLength="35.7" lengthAdjust="spacingAndGlyphs">MAIN</text>
<circle cx="41" cy="183" r="1.1" fill="#333"/>
<circle cx="156.3" cy="23.5" r="1" fill="#333"/>
<circle cx="335" cy="90.5" r="0.9" fill="#333"/>
<circle cx="906" cy="35" r="0.8" fill="#333"/>
<circle cx="1110" cy="192.5" r="0.8" fill="#333"/>
<circle cx="1236.5" cy="145" r="0.9" fill="#333"/>
<circle cx="1314" cy="86" r="0.8" fill="#333"/>
<circle cx="1350.8" cy="97.7" r="0.8" fill="#333"/>
<circle cx="1331.9" cy="159" r="0.8" fill="#333"/>
<circle cx="1348.4" cy="234.5" r="0.8" fill="#333"/>
<circle cx="1324.8" cy="278" r="0.7" fill="#333"/>
<circle cx="731.5" cy="168.2" r="0.8" fill="#333"/>
<circle cx="723.5" cy="178.8" r="0.8" fill="#333"/>
<circle cx="1311" cy="444.8" r="1.2" fill="#333"/>
<circle cx="610" cy="65" r="0.8" fill="#333"/>
<circle cx="865" cy="50" r="0.8" fill="#333"/>
<circle cx="368.3" cy="223.3" r="0.7" fill="#333"/>
<circle cx="516.7" cy="173.3" r="0.7" fill="#333"/>
<circle cx="942.3" cy="221.7" r="0.8" fill="#333"/>
<circle cx="1120" cy="213.3" r="0.8" fill="#333"/>
<circle cx="628.3" cy="96.7" r="0.8" fill="#333"/>
<circle cx="578.3" cy="103.3" r="0.7" fill="#333"/>
<circle cx="530" cy="163.3" r="0.8" fill="#333"/>
<circle cx="600" cy="298" r="0.8" fill="#333"/>
<circle cx="632" cy="319" r="0.7" fill="#333"/>
</g>
<polygon fill="#00b050" fill-opacity="0.36" points="550.4,216.7 620,248 663.9,266.7 686.5,269.6 727.6,269 749.2,265.3 766.9,268 810,286.3 820.4,291.8 847,298.8 856.5,300.9 876.2,298.1 876.2,393.4 550.4,392.5"/>
<polygon fill="#00b050" fill-opacity="0.36" points="896,296.5 925.5,295.2 931.8,294.1 938,290.2 942.7,290.2 950.6,294.9 973.5,300.4 993.9,301.2 1006.5,297.3 1017.5,290.2 1031.6,282.7 1056.7,282 1070.8,291 1075.5,293 1110,292.5 1114.1,291.8 1138.8,282.4 1139,282.3 1139,394.1 896,393.4"/>
<polygon fill="#00b050" fill-opacity="0.36" points="1147.2,278.2 1151.2,276.2 1163.5,276.2 1163.5,394.1 1147.2,394.1"/>
<polygon fill="#ff0000" fill-opacity="0.36" points="876.2,298.1 876.9,298 895.7,296.5 896,296.5 896,393.4 876.2,393.4"/>
<polygon fill="#ffc000" fill-opacity="0.36" points="1139,282.3 1147.2,278.2 1147.2,394.1 1139,394.1"/>
<polyline fill="none" stroke="#0070c0" stroke-width="5.2" stroke-dasharray="16.5,6" stroke-linejoin="round" points="584.5,211 586.5,212 636,234.7 645.3,238.4 668,247.6 684.5,253.9 692.4,255 727.6,255.3 737,253.6 751.5,251.4 760,253.7 780,261.5 803.5,269.6 825.2,275.4 847,279 876,281.2 890.4,279.8 912.2,277.6 923.8,273.3 932,269 938.3,266.7 944,267.5 952,272.5 960,278 966,282 975,285.8 986,288.4 993,287 1003.5,281.2 1022.3,274.6 1047,266.7 1052.8,266 1061.4,268.1 1070.1,273.9 1076,277.5 1113.6,277.5 1133.9,270.3 1154.2,257.2"/>
<polygon fill="#0070c0" points="558,200 587.7,198.6 575.9,222"/>
<line x1="551.2" y1="90" x2="551.2" y2="207.5" stroke="#000" stroke-width="2"/>
<polygon fill="#000" points="545.8,206 556.6,206 551.2,216.5"/>
<line x1="756" y1="114" x2="756" y2="256.2" stroke="#000" stroke-width="2"/>
<polygon fill="#000" points="750.6,254.7 761.4,254.7 756,265.2"/>
<line x1="1017" y1="154.7" x2="1017" y2="280.6" stroke="#000" stroke-width="2"/>
<polygon fill="#000" points="1011.6,279.1 1022.4,279.1 1017,289.6"/>
<line x1="1046.5" y1="78.6" x2="1046.5" y2="272.2" stroke="#000" stroke-width="2"/>
<polygon fill="#000" points="1041.1,270.7 1051.9,270.7 1046.5,281.2"/>
<line x1="1139.8" y1="154.7" x2="1139.8" y2="272.5" stroke="#000" stroke-width="2"/>
<polygon fill="#000" points="1134.4,271 1145.2,271 1139.8,281.5"/>
<rect x="497" y="21" width="111" height="69" fill="#000"/>
<text x="515.2" y="49.7" font-size="18" fill="#fff" textLength="74.5" lengthAdjust="spacingAndGlyphs">First train</text>
<text x="523" y="74.4" font-size="18" fill="#fff" textLength="59.1" lengthAdjust="spacingAndGlyphs">parting</text>
<rect x="671" y="45" width="172" height="69" fill="#000"/>
<text x="730.1" y="72.9" font-size="18" fill="#fff" textLength="53.8" lengthAdjust="spacingAndGlyphs">Defect</text>
<text x="677.1" y="102" font-size="18" fill="#fff" textLength="159.7" lengthAdjust="spacingAndGlyphs">638.792-638.793km</text>
<rect x="931" y="11" width="171" height="67.6" fill="#000"/>
<text x="989.8" y="38.5" font-size="18" fill="#fff" textLength="53.5" lengthAdjust="spacingAndGlyphs">Defect</text>
<text x="936.5" y="67.6" font-size="18" fill="#fff" textLength="160.1" lengthAdjust="spacingAndGlyphs">644.610-644.614km</text>
<rect x="929.2" y="87.3" width="109.6" height="67.4" fill="#000"/>
<text x="957" y="114.9" font-size="18" fill="#fff" textLength="53.9" lengthAdjust="spacingAndGlyphs">Defect</text>
<text x="940.1" y="143.3" font-size="18" fill="#fff" textLength="87.8" lengthAdjust="spacingAndGlyphs">644.085km</text>
<rect x="1049.4" y="87.3" width="98.4" height="67.4" fill="#000"/>
<text x="1071.8" y="114.9" font-size="18" fill="#fff" textLength="53.7" lengthAdjust="spacingAndGlyphs">Defect</text>
<text x="1054.5" y="143.3" font-size="18" fill="#fff" textLength="88.2" lengthAdjust="spacingAndGlyphs">646.591km</text>
</svg></body></html>
